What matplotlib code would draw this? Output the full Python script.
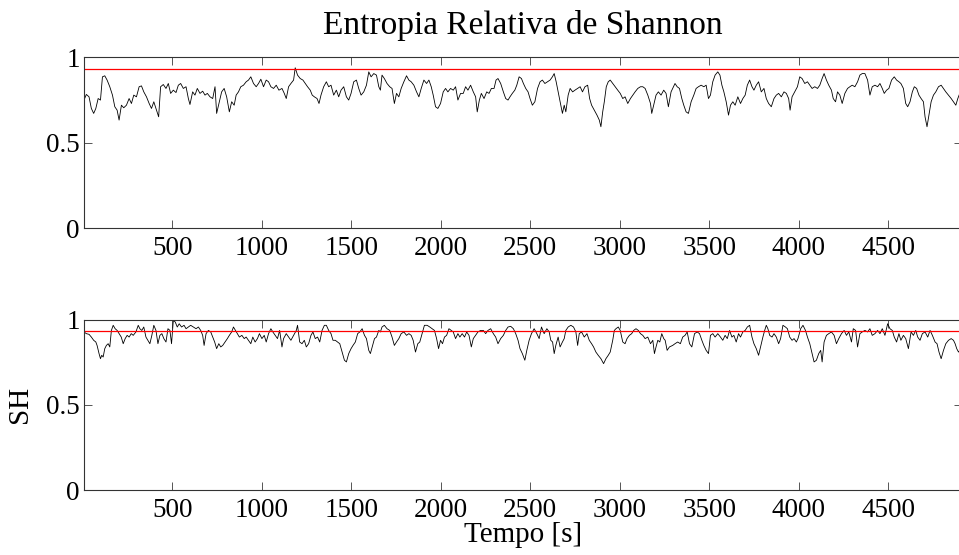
import numpy as np
import matplotlib
matplotlib.use('Agg')
import matplotlib.pyplot as plt

# series (time in s, relative Shannon entropy)
t_sup = [7, 20, 35, 48, 61, 73, 86, 99, 110, 123, 136, 151, 166, 179, 192, 203, 216, 229, 244, 259,
         272, 285, 300, 315, 328, 341, 356, 371, 384, 397, 412, 424, 435, 450, 465, 478, 491, 506, 521, 534,
         547, 562, 577, 590, 599, 614, 627, 640, 655, 670, 683, 696, 711, 726, 739, 748, 763, 776, 790, 804,
         819, 832, 846, 857, 870, 883, 898, 913, 926, 939, 954, 969, 982, 995, 1010, 1025, 1038, 1051, 1066, 1081,
         1096, 1113, 1126, 1137, 1150, 1163, 1178, 1187, 1200, 1215, 1230, 1243, 1256, 1271, 1282, 1294, 1309, 1320, 1331, 1346,
         1361, 1374, 1387, 1402, 1417, 1430, 1443, 1458, 1473, 1486, 1499, 1514, 1529, 1542, 1555, 1570, 1585, 1598, 1611, 1626,
         1641, 1654, 1663,
         1672, 1685, 1700, 1715, 1728, 1741, 1753, 1766, 1779, 1794, 1809, 1822, 1835, 1850, 1865, 1878, 1891, 1906, 1921, 1934,
         1947, 1958, 1971, 1984, 1999, 2014, 2027, 2040, 2055, 2070, 2083, 2096, 2111, 2126, 2139, 2152, 2167, 2182, 2195, 2204,
         2216, 2227, 2242, 2257, 2270, 2283, 2298, 2309, 2320, 2335, 2350, 2363, 2376, 2387, 2400, 2414, 2425, 2438, 2451, 2462,
         2475, 2488, 2499, 2512, 2526, 2541, 2555, 2568, 2582, 2596, 2611, 2624, 2634, 2645, 2656, 2667, 2680, 2690, 2699, 2712,
         2723, 2737, 2750, 2765, 2779, 2792, 2806, 2821, 2832, 2843, 2858, 2873, 2886, 2895, 2905, 2914, 2925, 2936, 2947, 2961,
         2974, 2989, 3003, 3017, 3030, 3045, 3060, 3073, 3086, 3101, 3116, 3129, 3142, 3157, 3172, 3179, 3190, 3203, 3216, 3231,
         3246, 3259, 3272, 3287,
         3296, 3309, 3321, 3334, 3347, 3358, 3371, 3384, 3399, 3414, 3427, 3440, 3455, 3470, 3483, 3496, 3507, 3520, 3533, 3548,
         3560, 3571, 3582, 3595, 3608, 3619, 3632, 3645, 3660, 3675, 3688, 3701, 3713, 3726, 3739, 3750, 3763, 3776, 3791, 3806,
         3819, 3832, 3847, 3862, 3875, 3888, 3903, 3918, 3931, 3944, 3952, 3963, 3978, 3993, 4006, 4019, 4034, 4049, 4062, 4075,
         4090, 4105, 4118, 4131, 4142, 4155, 4168, 4183, 4193, 4206, 4217, 4230, 4243, 4258, 4273, 4286, 4299, 4314, 4329, 4342,
         4355, 4370, 4385, 4398, 4411, 4426, 4441, 4454, 4467, 4478, 4491, 4504, 4519, 4534, 4547, 4560, 4571, 4585, 4598, 4609,
         4622, 4635, 4646, 4659, 4672, 4684, 4697, 4706, 4717, 4728, 4740, 4753, 4766, 4781, 4796, 4809, 4822, 4837, 4852, 4865,
         4878, 4889, 4900]
sh_sup = [0.749, 0.782, 0.768, 0.700, 0.671, 0.700, 0.758, 0.749, 0.885, 0.891, 0.866, 0.827, 0.778, 0.710, 0.690, 0.632, 0.719, 0.704, 0.719, 0.758,
          0.729, 0.778, 0.768, 0.827, 0.832, 0.797, 0.768, 0.729, 0.700, 0.739, 0.690, 0.651, 0.827, 0.840, 0.817, 0.846, 0.788, 0.807, 0.793, 0.836,
          0.846, 0.817, 0.827, 0.758, 0.723, 0.797, 0.778, 0.817, 0.788, 0.801, 0.778, 0.788, 0.768, 0.758, 0.827, 0.671, 0.739, 0.797, 0.817, 0.768,
          0.680, 0.739, 0.719, 0.778, 0.797, 0.827, 0.836, 0.856, 0.866, 0.885, 0.846, 0.827, 0.846, 0.871, 0.827, 0.866, 0.856, 0.827, 0.817, 0.836,
          0.807, 0.817, 0.788, 0.758, 0.827, 0.846, 0.866, 0.938, 0.895, 0.875, 0.866, 0.846, 0.827, 0.807, 0.778, 0.768, 0.758, 0.729, 0.778, 0.827,
          0.856, 0.827, 0.836, 0.778, 0.807, 0.768, 0.807, 0.827, 0.768, 0.749, 0.788, 0.856, 0.866, 0.817, 0.778, 0.797, 0.836, 0.914, 0.885, 0.904,
          0.895, 0.827, 0.807,
          0.895, 0.875, 0.846, 0.827, 0.817, 0.729, 0.788, 0.768, 0.817, 0.856, 0.891, 0.866, 0.856, 0.836, 0.797, 0.768, 0.817, 0.866, 0.846, 0.866,
          0.827, 0.778, 0.710, 0.700, 0.729, 0.797, 0.817, 0.797, 0.817, 0.807, 0.827, 0.749, 0.788, 0.788, 0.827, 0.807, 0.836, 0.797, 0.768, 0.680,
          0.749, 0.788, 0.758, 0.797, 0.788, 0.817, 0.817, 0.866, 0.875, 0.846, 0.797, 0.758, 0.749, 0.768, 0.788, 0.807, 0.836, 0.885, 0.875, 0.846,
          0.817, 0.797, 0.758, 0.719, 0.739, 0.817, 0.856, 0.866, 0.846, 0.856, 0.866, 0.885, 0.904, 0.856, 0.797, 0.739, 0.671, 0.719, 0.680, 0.778,
          0.817, 0.797, 0.807, 0.817, 0.827, 0.797, 0.827, 0.836, 0.758, 0.719, 0.690, 0.661, 0.632, 0.593, 0.680, 0.739, 0.827, 0.856, 0.866, 0.846,
          0.827, 0.807, 0.788, 0.758, 0.768, 0.729, 0.758, 0.778, 0.797, 0.817, 0.827, 0.827, 0.817, 0.778, 0.729, 0.671, 0.719, 0.778, 0.797, 0.778,
          0.807, 0.788, 0.710, 0.797,
          0.817, 0.846, 0.827, 0.817, 0.758, 0.719, 0.680, 0.671, 0.739, 0.778, 0.817, 0.827, 0.836, 0.827, 0.836, 0.758, 0.778, 0.856, 0.895, 0.914,
          0.895, 0.836, 0.797, 0.739, 0.661, 0.719, 0.739, 0.719, 0.768, 0.729, 0.758, 0.778, 0.836, 0.866, 0.827, 0.807, 0.836, 0.856, 0.797, 0.817,
          0.758, 0.729, 0.710, 0.758, 0.778, 0.788, 0.768, 0.797, 0.788, 0.758, 0.690, 0.768, 0.797, 0.827, 0.885, 0.875, 0.846, 0.856, 0.836, 0.817,
          0.827, 0.817, 0.836, 0.875, 0.904, 0.866, 0.836, 0.807, 0.758, 0.739, 0.797, 0.778, 0.729, 0.788, 0.817, 0.827, 0.836, 0.827, 0.856, 0.895,
          0.904, 0.904, 0.866, 0.778, 0.827, 0.836, 0.827, 0.846, 0.817, 0.788, 0.807, 0.817, 0.866, 0.885, 0.866, 0.856, 0.846, 0.817, 0.729, 0.710,
          0.739, 0.797, 0.827, 0.817, 0.778, 0.758, 0.739, 0.651, 0.593, 0.661, 0.739, 0.778, 0.797, 0.827, 0.836, 0.817, 0.797, 0.778, 0.758, 0.739,
          0.719, 0.758, 0.788]

t_inf = [7, 20, 35, 48, 61, 73, 80, 91, 99, 106, 114, 123, 132, 142, 151, 160, 170, 181, 192, 203,
         215, 226, 237, 248, 259, 271, 282, 297, 310, 319, 330, 341, 353, 364, 375, 386, 397, 409, 420, 431,
         442, 453, 465, 476, 487, 496, 506, 517, 528, 539, 552, 566, 577, 590, 603, 618, 633, 646, 659, 670,
         678, 689, 702, 715, 726, 737, 748, 760, 771, 782, 795, 808, 819, 832, 842, 853, 864, 875, 889, 902,
         913, 926, 939, 950, 963, 976, 987, 1001, 1014, 1025, 1038, 1051, 1062, 1075, 1088, 1100, 1113, 1122, 1137, 1150,
         1163, 1178, 1193, 1200, 1212, 1225, 1238, 1249, 1262, 1275, 1286, 1299, 1312, 1324, 1337, 1350, 1361, 1374, 1387, 1398,
         1411, 1424, 1436, 1449, 1462, 1473, 1486, 1499, 1510, 1523, 1536, 1548, 1561, 1574, 1585, 1598, 1607, 1617, 1630, 1641,
         1654, 1663,
         1672, 1685, 1700, 1715, 1728, 1741, 1753, 1766, 1779, 1794, 1809, 1822, 1835, 1846, 1859, 1872, 1883, 1896, 1909, 1924,
         1939, 1952, 1965, 1977, 1988, 1999, 2010, 2021, 2033, 2046, 2059, 2070, 2083, 2096, 2107, 2120, 2133, 2145, 2158, 2171,
         2182, 2195, 2208, 2223, 2238, 2251, 2264, 2279, 2294, 2307, 2320, 2335, 2350, 2363, 2376, 2391, 2406, 2419, 2432, 2443,
         2456, 2470, 2481, 2494, 2507, 2522, 2537, 2550, 2563, 2578, 2593, 2606, 2615, 2625, 2634, 2643, 2656, 2667, 2680, 2690,
         2699, 2712, 2727, 2742, 2755, 2765, 2774, 2787, 2802, 2817, 2830, 2843, 2854, 2867, 2880, 2895, 2910, 2923, 2936, 2947,
         2961, 2970, 2979, 2992, 3003, 3017, 3030, 3041, 3054, 3067, 3078, 3091, 3104, 3116, 3129, 3142, 3157, 3172, 3185, 3194,
         3203, 3213, 3224, 3235, 3246, 3254, 3265, 3278,
         3296, 3309, 3324, 3339, 3352, 3365, 3377, 3390, 3403, 3418, 3433, 3446, 3459, 3470, 3483, 3496, 3507, 3520, 3533, 3548,
         3563, 3576, 3589, 3601, 3614, 3627, 3638, 3651, 3664, 3675, 3688, 3701, 3713, 3726, 3739, 3750, 3763, 3776, 3787, 3800,
         3810, 3819, 3828, 3838, 3851, 3862, 3875, 3888, 3899, 3912, 3926, 3937, 3950, 3963, 3974, 3987, 3996, 4011, 4024, 4038,
         4049, 4062, 4075, 4086, 4099, 4112, 4123, 4131, 4142, 4155, 4168, 4183, 4198, 4211, 4224, 4239, 4254, 4267, 4280, 4295,
         4305, 4318, 4329, 4342, 4355, 4370, 4385, 4398, 4411, 4426, 4441, 4454, 4467, 4482, 4497, 4510, 4523, 4534, 4547, 4560,
         4571, 4585, 4598, 4613, 4628, 4641, 4654, 4665, 4678, 4691, 4706, 4721, 4734, 4747, 4762, 4773, 4784, 4796, 4809, 4822,
         4837, 4852, 4865, 4874, 4883, 4893, 4900]
sh_inf = [0.928, 0.918, 0.914, 0.898, 0.879, 0.869, 0.849, 0.801, 0.771, 0.791, 0.781, 0.830, 0.849, 0.859, 0.840, 0.937, 0.967, 0.947, 0.937, 0.918,
          0.898, 0.859, 0.889, 0.908, 0.898, 0.918, 0.908, 0.928, 0.967, 0.947, 0.937, 0.957, 0.898, 0.879, 0.859, 0.908, 0.967, 0.937, 0.859, 0.908,
          0.918, 0.889, 0.869, 0.947, 0.937, 0.859, 0.996, 0.986, 0.957, 0.976, 0.957, 0.967, 0.947, 0.957, 0.967, 0.957, 0.947, 0.957, 0.937, 0.908,
          0.849, 0.918, 0.937, 0.928, 0.898, 0.869, 0.830, 0.859, 0.840, 0.849, 0.869, 0.889, 0.908, 0.928, 0.957, 0.937, 0.918, 0.898, 0.908, 0.889,
          0.898, 0.879, 0.859, 0.898, 0.869, 0.889, 0.918, 0.889, 0.908, 0.869, 0.918, 0.947, 0.928, 0.908, 0.889, 0.937, 0.840, 0.889, 0.918, 0.898,
          0.879, 0.908, 0.937, 0.967, 0.869, 0.859, 0.879, 0.840, 0.859, 0.908, 0.928, 0.889, 0.898, 0.869, 0.937, 0.967, 0.967, 0.937, 0.918, 0.879,
          0.879, 0.869, 0.859, 0.810, 0.762, 0.752, 0.801, 0.830, 0.849, 0.869, 0.918, 0.928, 0.947, 0.908, 0.889, 0.820, 0.801, 0.840, 0.889, 0.898,
          0.937, 0.928,
          0.957, 0.967, 0.947, 0.937, 0.898, 0.849, 0.869, 0.889, 0.918, 0.928, 0.908, 0.918, 0.908, 0.879, 0.810, 0.859, 0.869, 0.918, 0.967, 0.967,
          0.957, 0.947, 0.937, 0.889, 0.830, 0.879, 0.859, 0.898, 0.908, 0.947, 0.937, 0.928, 0.889, 0.918, 0.898, 0.918, 0.898, 0.928, 0.908, 0.840,
          0.889, 0.908, 0.928, 0.937, 0.937, 0.918, 0.937, 0.947, 0.918, 0.898, 0.859, 0.889, 0.908, 0.937, 0.957, 0.961, 0.947, 0.918, 0.879, 0.830,
          0.801, 0.762, 0.820, 0.879, 0.918, 0.947, 0.918, 0.889, 0.957, 0.918, 0.947, 0.928, 0.879, 0.869, 0.801, 0.849, 0.898, 0.840, 0.869, 0.889,
          0.937, 0.957, 0.967, 0.957, 0.928, 0.849, 0.918, 0.928, 0.898, 0.918, 0.879, 0.859, 0.840, 0.810, 0.791, 0.771, 0.742, 0.771, 0.791, 0.810,
          0.879, 0.937, 0.947, 0.957, 0.937, 0.869, 0.859, 0.889, 0.908, 0.918, 0.937, 0.947, 0.937, 0.918, 0.908, 0.889, 0.898, 0.859, 0.879, 0.801,
          0.840, 0.879, 0.869, 0.918, 0.889, 0.879, 0.820, 0.840,
          0.849, 0.859, 0.869, 0.859, 0.898, 0.908, 0.928, 0.859, 0.840, 0.918, 0.928, 0.918, 0.879, 0.849, 0.820, 0.801, 0.908, 0.918, 0.898, 0.918,
          0.898, 0.879, 0.908, 0.889, 0.937, 0.898, 0.908, 0.869, 0.918, 0.898, 0.928, 0.937, 0.957, 0.967, 0.898, 0.859, 0.830, 0.791, 0.840, 0.898,
          0.937, 0.967, 0.947, 0.908, 0.898, 0.918, 0.898, 0.859, 0.889, 0.967, 0.957, 0.947, 0.898, 0.879, 0.889, 0.869, 0.889, 0.947, 0.967, 0.937,
          0.898, 0.859, 0.801, 0.752, 0.762, 0.801, 0.820, 0.752, 0.869, 0.908, 0.918, 0.928, 0.908, 0.859, 0.889, 0.918, 0.937, 0.908, 0.928, 0.869,
          0.947, 0.937, 0.840, 0.918, 0.928, 0.937, 0.928, 0.947, 0.908, 0.918, 0.937, 0.918, 0.947, 0.908, 0.976, 0.947, 0.937, 0.898, 0.869, 0.918,
          0.879, 0.908, 0.889, 0.830, 0.928, 0.908, 0.937, 0.898, 0.879, 0.918, 0.928, 0.898, 0.937, 0.908, 0.869, 0.859, 0.810, 0.771, 0.820, 0.859,
          0.879, 0.889, 0.879, 0.859, 0.830, 0.810, 0.820]

limiar = 0.932
x_ticks = [500, 1000, 1500, 2000, 2500, 3000, 3500, 4000, 4500]
y_ticks = [0, 0.5, 1]
y_labels = ['0', '0.5', '1']

plt.rcParams['font.family'] = 'Liberation Serif'

fig = plt.figure(figsize=(9.59, 5.55), dpi=100)
ax1 = fig.add_axes([0.0876, 0.589, 0.916, 0.308])
ax2 = fig.add_axes([0.0876, 0.117, 0.916, 0.307])

for ax, t, sh in [(ax1, t_sup, sh_sup), (ax2, t_inf, sh_inf)]:
    ax.plot(t, sh, color='black', lw=0.6)
    ax.axhline(limiar, color='#ff0000', lw=0.9)
    ax.set_xlim(7, 4915)
    ax.set_ylim(0, 1)
    ax.set_xticks(x_ticks)
    ax.set_xticklabels([str(v) for v in x_ticks])
    ax.set_yticks(y_ticks)
    ax.set_yticklabels(y_labels)
    ax.tick_params(direction='in', top=True, right=True, length=6, width=0.7,
                   color='#555555', labelsize=19.5)
    ax.tick_params(axis='x', pad=6)
    ax.tick_params(axis='y', pad=3)
    for s in ax.spines.values():
        s.set_color('#333333')
        s.set_linewidth(0.8)

ax1.set_title('Entropia Relativa de Shannon', fontsize=24, pad=17)
ax2.set_xlabel('Tempo [s]', fontsize=21, labelpad=-1)
ax2.set_ylabel('SH', fontsize=21)
ax2.yaxis.set_label_coords(-0.058, 0.5)

plt.savefig('out.png', dpi=100)
